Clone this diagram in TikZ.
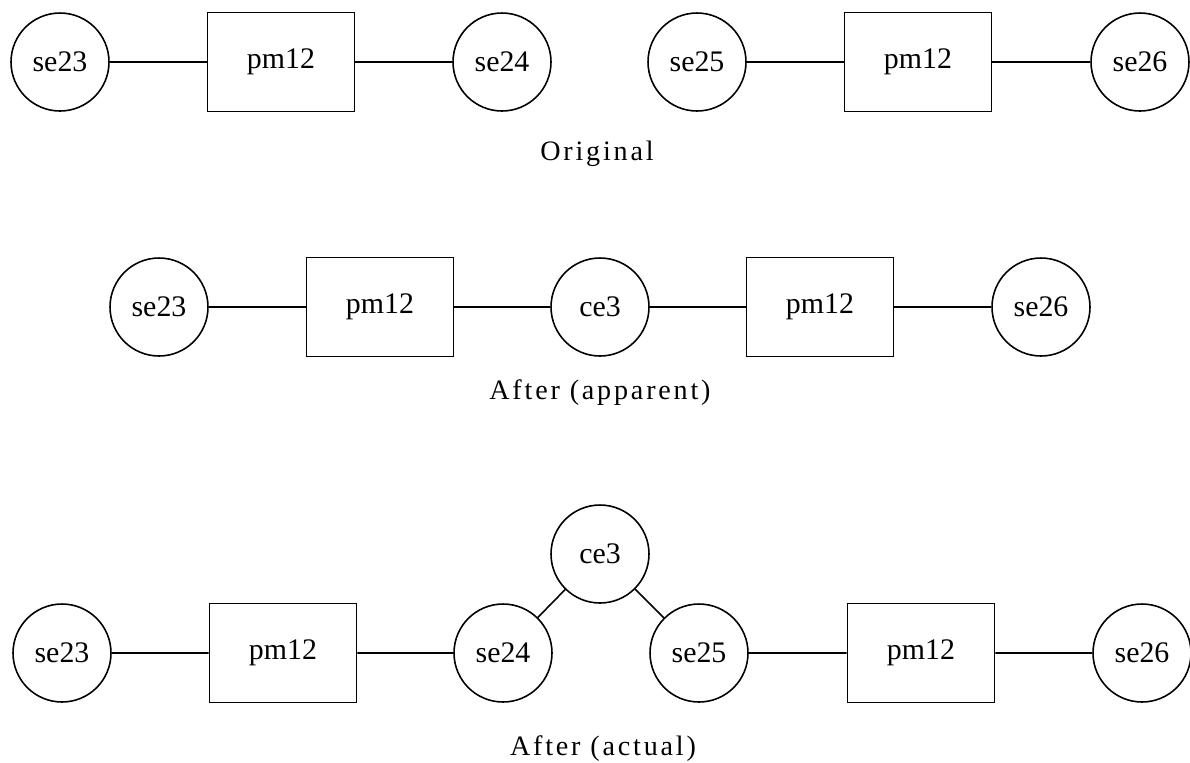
\documentclass[tikz,border=0pt]{standalone}
\usepackage{fontspec}
\setmainfont{Liberation Serif}
\usepackage{tikz}

\begin{document}
\begin{tikzpicture}[x=0.02cm, y=-0.02cm, line width=0.9pt,
    se/.style={draw, circle, minimum size=1.96cm, inner sep=0pt, font=\fontsize{17}{20}\selectfont},
    pm/.style={draw, rectangle, minimum width=2.94cm, minimum height=1.98cm, inner sep=0pt, font=\fontsize{17}{20}\selectfont},
    caption/.style={anchor=base, font=\fontsize{16}{19}\selectfont\addfontfeature{LetterSpace=10}}]
  \useasboundingbox (0,0) rectangle (1190,762);

  % original
  \node[se] (s23o) at (60,62) {se23};
  \node[pm] (pmo1) at (281,62) {pm12};
  \node[se] (s24o) at (502,62) {se24};
  \node[se] (s25o) at (697,62) {se25};
  \node[pm] (pmo2) at (918,62) {pm12};
  \node[se] (s26o) at (1140,62) {se26};
  \draw (s23o) -- (pmo1) -- (s24o);
  \draw (s25o) -- (pmo2) -- (s26o);
  \node[caption] (orig) at (597,160) {Original};

  % after, apparent
  \node[se] (s23p) at (159,307) {se23};
  \node[pm] (pmp1) at (380,307) {pm12};
  \node[se] (ce3p) at (600,307) {ce3};
  \node[pm] (pmp2) at (820,307) {pm12};
  \node[se] (s26p) at (1041,307) {se26};
  \draw (s23p) -- (pmp1) -- (ce3p) -- (pmp2) -- (s26p);
  \node[caption] (appar) at (600,399) {After (apparent)};

  % after, actual
  \node[se] (s23a) at (62,653) {se23};
  \node[pm] (pma1) at (283,653) {pm12};
  \node[se] (s24a) at (503,653) {se24};
  \node[se] (ce3a) at (600,554) {ce3};
  \node[se] (s25a) at (699,653) {se25};
  \node[pm] (pma2) at (921,653) {pm12};
  \node[se] (s26a) at (1142,653) {se26};
  \draw (s23a) -- (pma1) -- (s24a) -- (ce3a) -- (s25a) -- (pma2) -- (s26a);
  \node[caption] (actual) at (603,755) {After (actual)};
\end{tikzpicture}
\end{document}
